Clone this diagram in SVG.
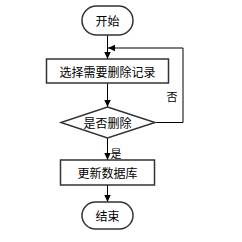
<svg xmlns="http://www.w3.org/2000/svg" width="242" height="242" viewBox="0 0 242 242">
<style>
.box{fill:#fff;stroke:#333;stroke-width:1.5}
.ln{fill:none;stroke:#000;stroke-width:1}
.t{font-family:"Noto Sans CJK SC","Noto Sans",sans-serif;font-size:12px;fill:#000;text-anchor:middle;dominant-baseline:central}
.s{font-family:"Noto Sans CJK SC","Noto Sans",sans-serif;font-size:11px;fill:#000;text-anchor:middle;dominant-baseline:central}
</style>
<defs>
<marker id="ah" markerWidth="8" markerHeight="8" refX="7" refY="4" orient="auto" markerUnits="userSpaceOnUse">
<path d="M0,0.8 L7,4 L0,7.2 Z" fill="#000"/>
</marker>
</defs>
<rect width="242" height="242" fill="#fff"/>
<g id="connectors">
<line class="ln" x1="107.5" y1="35" x2="107.5" y2="59" marker-end="url(#ah)"/>
<line class="ln" x1="107.5" y1="83" x2="107.5" y2="107" marker-end="url(#ah)"/>
<line class="ln" x1="107.5" y1="138" x2="107.5" y2="160" marker-end="url(#ah)"/>
<line class="ln" x1="107.5" y1="185" x2="107.5" y2="202" marker-end="url(#ah)"/>
<polyline class="ln" points="155,122.5 183,122.5 183,48 108,48" marker-end="url(#ah)"/>
<text class="s" x="172" y="96">否</text>
<text class="s" x="116" y="153">是</text>
</g>
<g id="start">
<rect class="box" x="82" y="6" width="51" height="29" rx="14.5"/>
<text class="t" x="107.5" y="20.5">开始</text>
</g>
<g id="select">
<rect class="box" x="46.5" y="59" width="122" height="24"/>
<text class="t" x="107.5" y="71">选择需要删除记录</text>
</g>
<g id="decide">
<polygon class="box" points="107.5,107 155,122.5 107.5,138 61,122.5"/>
<text class="t" x="107.5" y="122.5">是否删除</text>
</g>
<g id="update">
<rect class="box" x="60.5" y="160" width="94" height="25"/>
<text class="t" x="107.5" y="172.5">更新数据库</text>
</g>
<g id="end">
<rect class="box" x="82" y="202" width="51" height="27" rx="13.5"/>
<text class="t" x="107.5" y="215.5">结束</text>
</g>
</svg>
